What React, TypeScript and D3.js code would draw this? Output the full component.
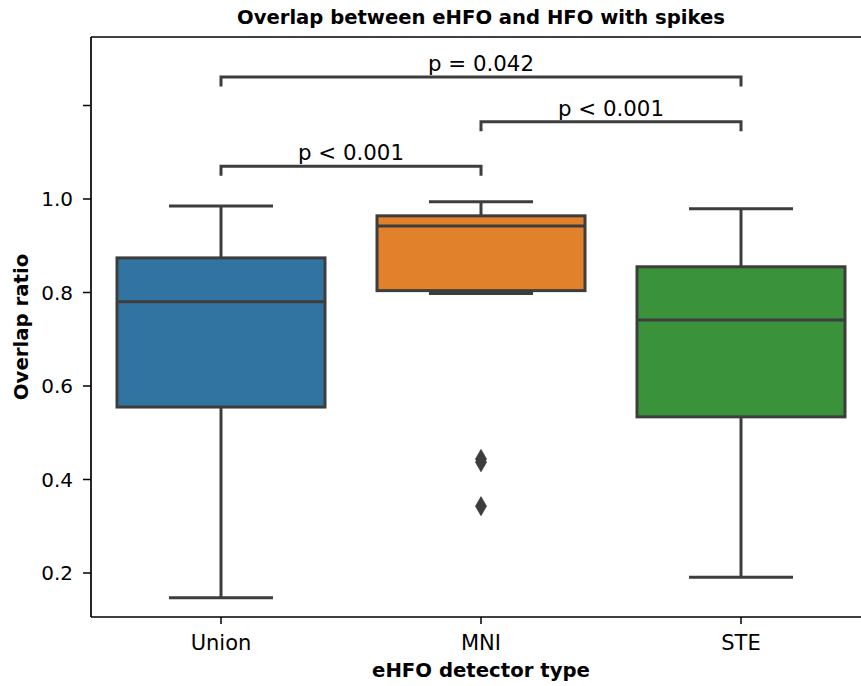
import React from "react";
import * as d3 from "d3";

const categories = ["Union", "MNI", "STE"];
const whiskerLow = [0.147, 0.798, 0.191];
const q1 = [0.555, 0.804, 0.534];
const median = [0.78, 0.942, 0.741];
const q3 = [0.874, 0.964, 0.855];
const whiskerHigh = [0.985, 0.994, 0.979];
const outliers = [[], [0.444, 0.437, 0.343], []];
const boxColors = ["#3274a1", "#e1812c", "#3a923a"];

const yTicks = [0.2, 0.4, 0.6, 0.8, 1.0, 1.2];
const yTickLabels = ["0.2", "0.4", "0.6", "0.8", "1.0", ""];

const pairsA = ["Union", "MNI", "Union"];
const pairsB = ["MNI", "STE", "STE"];
const pairLabels = ["p < 0.001", "p < 0.001", "p = 0.042"];
const pairLevels = [1.07, 1.165, 1.261];

const title = "Overlap between eHFO and HFO with spikes";
const xLabel = "eHFO detector type";
const yLabel = "Overlap ratio";

const W = 861;
const H = 686;
const left = 91;
const right = 871;
const top = 37;
const bottom = 617;
const font = "DejaVu Sans, sans-serif";
const gray = "#3d3d3d";

export default function App() {
  const x = d3.scaleBand<string>().domain(categories).range([left, right]).paddingInner(0).paddingOuter(0);
  const y = d3.scaleLinear().domain([0.10588, 1.34652]).range([bottom, top]);
  const bw = x.bandwidth();
  const boxW = bw * 0.8;
  const cx = (c: string) => (x(c) as number) + bw / 2;
  const diamond = (px: number, py: number) => {
    const hh = 9.5, hw = 5.5;
    return `M${px},${py - hh}L${px + hw},${py}L${px},${py + hh}L${px - hw},${py}Z`;
  };
  const lw = 3;
  return (
    <svg width={W} height={H} style={{ position: "absolute", left: 0, top: 0, background: "#fff" }} fontFamily={font}>
      <rect x={0} y={0} width={W} height={H} fill="#fff" />
      {categories.map((c, i) => {
        const xc = cx(c);
        return (
          <g key={c}>
            <line x1={xc} x2={xc} y1={y(whiskerLow[i])} y2={y(q1[i])} stroke={gray} strokeWidth={lw} />
            <line x1={xc} x2={xc} y1={y(q3[i])} y2={y(whiskerHigh[i])} stroke={gray} strokeWidth={lw} />
            <line x1={xc - boxW / 4} x2={xc + boxW / 4} y1={y(whiskerLow[i])} y2={y(whiskerLow[i])} stroke={gray} strokeWidth={lw} />
            <line x1={xc - boxW / 4} x2={xc + boxW / 4} y1={y(whiskerHigh[i])} y2={y(whiskerHigh[i])} stroke={gray} strokeWidth={lw} />
            <rect x={xc - boxW / 2} y={y(q3[i])} width={boxW} height={y(q1[i]) - y(q3[i])} fill={boxColors[i]} stroke={gray} strokeWidth={lw} />
            <line x1={xc - boxW / 2} x2={xc + boxW / 2} y1={y(median[i])} y2={y(median[i])} stroke={gray} strokeWidth={lw} />
            {outliers[i].map((v, j) => (
              <path key={j} d={diamond(xc, y(v))} fill={gray} stroke={gray} strokeWidth={0.8} />
            ))}
          </g>
        );
      })}
      {pairLabels.map((lab, i) => {
        const xa = cx(pairsA[i]);
        const xb = cx(pairsB[i]);
        const yl = y(pairLevels[i]);
        return (
          <g key={i}>
            <path d={`M${xa},${yl + 9.5}L${xa},${yl}L${xb},${yl}L${xb},${yl + 9.5}`} fill="none" stroke={gray} strokeWidth={lw} />
            <text x={(xa + xb) / 2} y={yl - 6} textAnchor="middle" fontSize={21.3} fill="#000">{lab}</text>
          </g>
        );
      })}
      <line x1={left} x2={left} y1={top} y2={bottom} stroke="#000" strokeWidth={1.7} />
      <line x1={left} x2={right} y1={bottom} y2={bottom} stroke="#000" strokeWidth={1.7} />
      <line x1={left} x2={right} y1={top} y2={top} stroke="#000" strokeWidth={1.7} />
      <line x1={right} x2={right} y1={top} y2={bottom} stroke="#000" strokeWidth={1.7} />
      {yTicks.map((t, i) => (
        <g key={t}>
          <line x1={left - 8} x2={left} y1={y(t)} y2={y(t)} stroke="#000" strokeWidth={1.5} />
          <text x={left - 18} y={y(t)} dy="0.36em" textAnchor="end" fontSize={20} fill="#000">{yTickLabels[i]}</text>
        </g>
      ))}
      {categories.map((c) => (
        <g key={c}>
          <line x1={cx(c)} x2={cx(c)} y1={bottom} y2={bottom + 7} stroke="#000" strokeWidth={1.5} />
          <text x={cx(c)} y={650} textAnchor="middle" fontSize={21} fill="#000">{c}</text>
        </g>
      ))}
      <text x={481} y={677} textAnchor="middle" fontSize={19.7} fontWeight="bold" fill="#000">{xLabel}</text>
      <text transform={`translate(28,${(top + bottom) / 2}) rotate(-90)`} textAnchor="middle" fontSize={19.7} fontWeight="bold" fill="#000">{yLabel}</text>
      <text x={481} y={24} textAnchor="middle" fontSize={19.6} fontWeight="bold" fill="#000">{title}</text>
    </svg>
  );
}
